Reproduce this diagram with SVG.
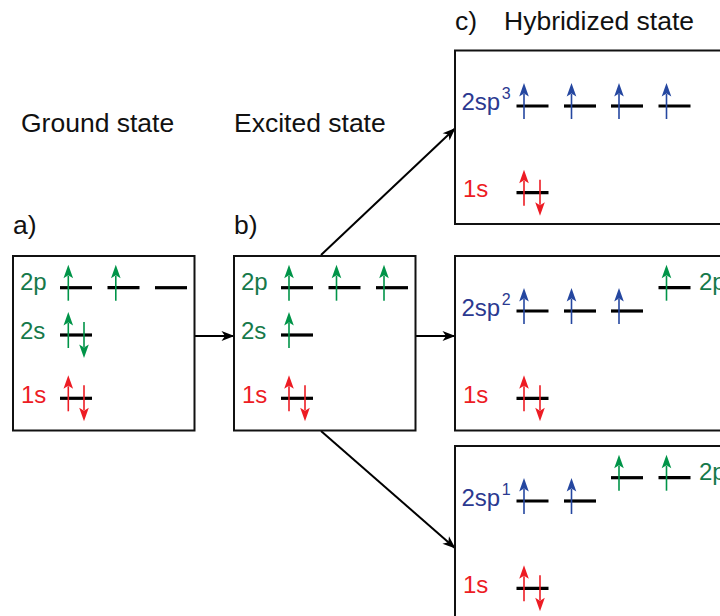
<svg xmlns="http://www.w3.org/2000/svg" xmlns:xlink="http://www.w3.org/1999/xlink" width="720" height="616" viewBox="0 0 720 616">
  <style>
    text { font-family: "Liberation Sans", Arial, sans-serif; }
    .title { font-size: 26.5px; fill: #111; }
    .lbl { font-size: 24px; }
    .sup { font-size: 16px; }
    .green-t { fill: #16794a; }
    .red-t { fill: #ed1c24; }
    .blue-t { fill: #2b3990; }
    .box { fill: #fff; stroke: #111; stroke-width: 2; }
    .level { stroke: #000; stroke-width: 3.2; }
    .conn { stroke: #000; stroke-width: 2; fill: none; marker-end: url(#head); }
    .g { color: #009448; }
    .r { color: #ed1c24; }
    .b { color: #2547a0; }
  </style>
  <defs>
    <!-- barbed connector arrowhead -->
    <marker id="head" markerUnits="userSpaceOnUse" markerWidth="16" markerHeight="12" viewBox="-14 -6 16 12" refX="0" refY="0" orient="auto">
      <path d="M0,0 L-13,-5 L-9.5,0 L-13,5 Z" fill="#000"/>
    </marker>
    <!-- electron spin arrow, origin on the level line -->
    <g id="up">
      <line x1="0" y1="13" x2="0" y2="-12" stroke="currentColor" stroke-width="1.6"/>
      <path d="M0,-23 L4.8,-9.5 L0,-12.5 L-4.8,-9.5 Z" fill="currentColor"/>
    </g>
  </defs>

  <!-- headings -->
  <g id="headings">
    <text class="title" x="21" y="131.5">Ground state</text>
    <text class="title" x="234" y="131.5">Excited state</text>
    <text class="title" x="13" y="234">a)</text>
    <text class="title" x="234" y="234">b)</text>
    <text class="title" x="455" y="30">c)</text>
    <text class="title" x="504" y="30">Hybridized state</text>
  </g>

  <!-- connectors -->
  <g id="connectors">
    <line class="conn" x1="195" y1="336" x2="234.5" y2="336"/>
    <line class="conn" x1="416" y1="336" x2="455.5" y2="336"/>
    <line class="conn" x1="321" y1="255" x2="455.5" y2="128"/>
    <line class="conn" x1="321" y1="431" x2="455.5" y2="548.5"/>
  </g>

  <!-- a) ground state -->
  <g id="ground">
    <rect class="box" x="13" y="256" width="181.5" height="174.5"/>
    <text class="lbl green-t" x="20" y="290">2p</text>
    <text class="lbl green-t" x="20" y="339">2s</text>
    <text class="lbl red-t" x="21" y="402.5">1s</text>
    <line class="level" x1="60" y1="287.7" x2="92" y2="287.7"/>
    <line class="level" x1="107.5" y1="287.7" x2="139.5" y2="287.7"/>
    <line class="level" x1="155" y1="287.7" x2="187" y2="287.7"/>
    <line class="level" x1="60" y1="335" x2="92" y2="335"/>
    <line class="level" x1="60" y1="398.3" x2="92" y2="398.3"/>
    <use xlink:href="#up" class="g" transform="translate(68.3,287.7)"/>
    <use xlink:href="#up" class="g" transform="translate(115.8,287.7)"/>
    <use xlink:href="#up" class="g" transform="translate(68.3,335)"/>
    <use xlink:href="#up" class="g" transform="translate(84,335) scale(1,-1)"/>
    <use xlink:href="#up" class="r" transform="translate(68.3,398.3)"/>
    <use xlink:href="#up" class="r" transform="translate(84,398.3) scale(1,-1)"/>
  </g>

  <!-- b) excited state -->
  <g id="excited">
    <rect class="box" x="234" y="256" width="181.5" height="174.5"/>
    <text class="lbl green-t" x="241" y="290">2p</text>
    <text class="lbl green-t" x="241" y="339">2s</text>
    <text class="lbl red-t" x="242" y="402.5">1s</text>
    <line class="level" x1="281" y1="287.7" x2="313" y2="287.7"/>
    <line class="level" x1="328.5" y1="287.7" x2="360.5" y2="287.7"/>
    <line class="level" x1="376" y1="287.7" x2="408" y2="287.7"/>
    <line class="level" x1="281" y1="335" x2="313" y2="335"/>
    <line class="level" x1="281" y1="398.3" x2="313" y2="398.3"/>
    <use xlink:href="#up" class="g" transform="translate(289,287.7)"/>
    <use xlink:href="#up" class="g" transform="translate(336.5,287.7)"/>
    <use xlink:href="#up" class="g" transform="translate(384,287.7)"/>
    <use xlink:href="#up" class="g" transform="translate(289,335)"/>
    <use xlink:href="#up" class="r" transform="translate(289,398.3)"/>
    <use xlink:href="#up" class="r" transform="translate(305,398.3) scale(1,-1)"/>
  </g>

  <!-- c) sp3 -->
  <g id="sp3">
    <rect class="box" x="455" y="50.5" width="280" height="173.5"/>
    <text class="lbl blue-t" x="461.5" y="110">2sp<tspan class="sup" dx="1.5" dy="-11.5">3</tspan></text>
    <text class="lbl red-t" x="463" y="196.5">1s</text>
    <line class="level" x1="516.5" y1="106" x2="548.5" y2="106"/>
    <line class="level" x1="564" y1="106" x2="596" y2="106"/>
    <line class="level" x1="611" y1="106" x2="643" y2="106"/>
    <line class="level" x1="658.5" y1="106" x2="690.5" y2="106"/>
    <line class="level" x1="516.5" y1="192.7" x2="548.5" y2="192.7"/>
    <use xlink:href="#up" class="b" transform="translate(524,106)"/>
    <use xlink:href="#up" class="b" transform="translate(571.5,106)"/>
    <use xlink:href="#up" class="b" transform="translate(619,106)"/>
    <use xlink:href="#up" class="b" transform="translate(666.5,106)"/>
    <use xlink:href="#up" class="r" transform="translate(524,192.7)"/>
    <use xlink:href="#up" class="r" transform="translate(540,192.7) scale(1,-1)"/>
  </g>

  <!-- c) sp2 -->
  <g id="sp2">
    <rect class="box" x="455" y="256" width="280" height="174.5"/>
    <text class="lbl blue-t" x="461.5" y="316">2sp<tspan class="sup" dx="1.5" dy="-11.5">2</tspan></text>
    <text class="lbl green-t" x="699" y="290">2p</text>
    <text class="lbl red-t" x="463" y="402.5">1s</text>
    <line class="level" x1="516.5" y1="311" x2="548.5" y2="311"/>
    <line class="level" x1="564" y1="311" x2="596" y2="311"/>
    <line class="level" x1="611" y1="311" x2="643" y2="311"/>
    <line class="level" x1="658.5" y1="287.7" x2="690.5" y2="287.7"/>
    <line class="level" x1="516.5" y1="398.3" x2="548.5" y2="398.3"/>
    <use xlink:href="#up" class="b" transform="translate(524,311)"/>
    <use xlink:href="#up" class="b" transform="translate(571.5,311)"/>
    <use xlink:href="#up" class="b" transform="translate(619,311)"/>
    <use xlink:href="#up" class="g" transform="translate(666.5,287.7)"/>
    <use xlink:href="#up" class="r" transform="translate(524,398.3)"/>
    <use xlink:href="#up" class="r" transform="translate(540,398.3) scale(1,-1)"/>
  </g>

  <!-- c) sp -->
  <g id="sp1">
    <rect class="box" x="455" y="446" width="280" height="190"/>
    <text class="lbl blue-t" x="461.5" y="506">2sp<tspan class="sup" dx="1.5" dy="-11.5">1</tspan></text>
    <text class="lbl green-t" x="699" y="480">2p</text>
    <text class="lbl red-t" x="463" y="592.5">1s</text>
    <line class="level" x1="516.5" y1="501" x2="548.5" y2="501"/>
    <line class="level" x1="564" y1="501" x2="596" y2="501"/>
    <line class="level" x1="611" y1="477.7" x2="643" y2="477.7"/>
    <line class="level" x1="658.5" y1="477.7" x2="690.5" y2="477.7"/>
    <line class="level" x1="516.5" y1="588.3" x2="548.5" y2="588.3"/>
    <use xlink:href="#up" class="b" transform="translate(524,501)"/>
    <use xlink:href="#up" class="b" transform="translate(571.5,501)"/>
    <use xlink:href="#up" class="g" transform="translate(619,477.7)"/>
    <use xlink:href="#up" class="g" transform="translate(666.5,477.7)"/>
    <use xlink:href="#up" class="r" transform="translate(524,588.3)"/>
    <use xlink:href="#up" class="r" transform="translate(540,588.3) scale(1,-1)"/>
  </g>
</svg>
